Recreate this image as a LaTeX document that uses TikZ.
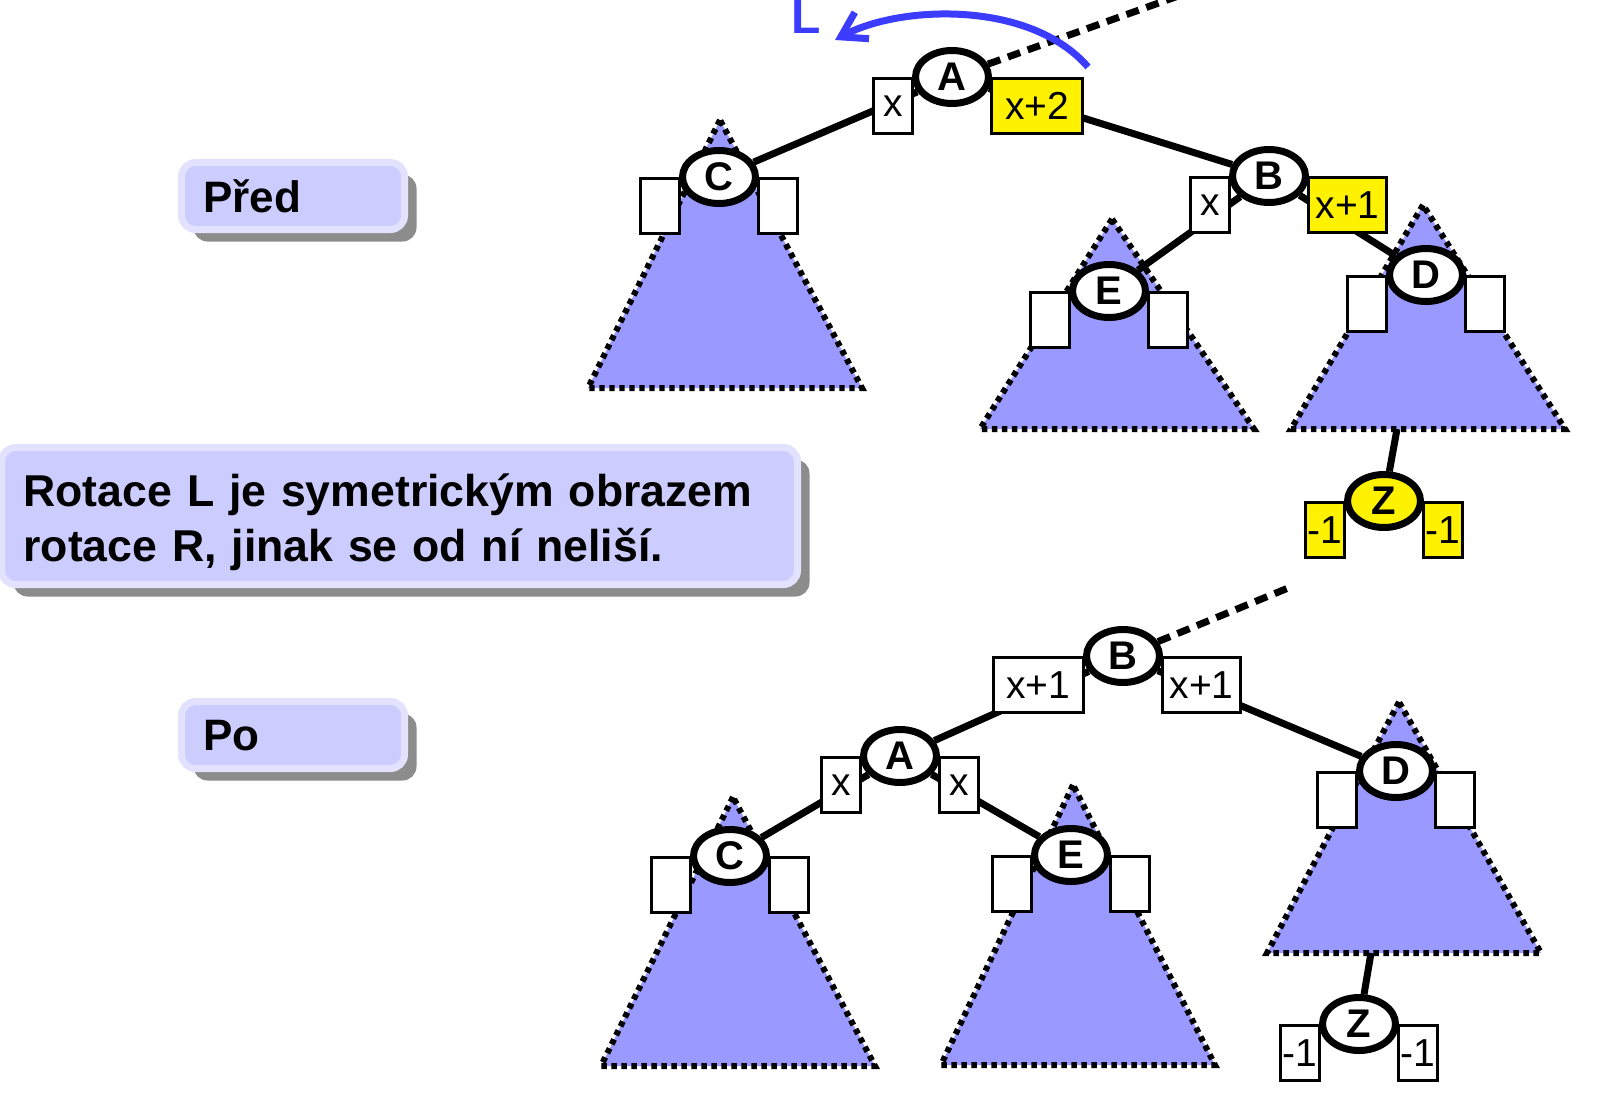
\documentclass[tikz,border=0pt]{standalone}
\usepackage{fontspec}
\setmainfont{Liberation Sans}
\usetikzlibrary{shapes.geometric, arrows.meta, positioning, shadows}
\definecolor{treeblue}{RGB}{153, 153, 255}
\definecolor{tagfill}{RGB}{204, 204, 255}
\definecolor{tagrim}{RGB}{226, 226, 255}
\definecolor{rotblue}{RGB}{60, 60, 255}
\pgfdeclarelayer{trees}
\pgfdeclarelayer{links}
\pgfdeclarelayer{boxes}
\pgfsetlayers{trees,links,boxes,main}
\tikzset{
    knot/.style={ellipse, draw, line width=3.5pt, fill=white, minimum width=36.5pt, minimum height=26.5pt, inner sep=0pt, font=\fontsize{20}{20}\selectfont\bfseries},
    bal/.style={rectangle, draw, line width=1.6pt, fill=white, minimum width=19.4pt, minimum height=27.4pt, inner sep=0.5pt, font=\fontsize{19.5}{19.5}\selectfont},
    hot/.style={fill=yellow},
    link/.style={draw, line width=3.5pt},
    uplink/.style={draw, line width=3.5pt, dash pattern=on 6.5pt off 4pt},
    subtree/.style={fill=treeblue, draw=black, line width=3pt, dash pattern=on 2.7pt off 2.3pt},
    tagbox/.style={rectangle, rounded corners=7pt, fill=tagfill, draw=tagrim, line width=3.5pt, drop shadow={shadow xshift=6pt, shadow yshift=-6pt, fill=black!45, opacity=1}, inner xsep=11pt, align=left, font=\fontsize{22}{27.5}\selectfont\bfseries},
    rot/.style={draw=rotblue, line width=3.5pt, -{Straight Barb[length=12pt, width=15pt]}}
}

\begin{document}
\begin{tikzpicture}[x=0.5pt, y=-0.5pt]
    \useasboundingbox (0,0) rectangle (1611,1098);

    % side notes
    \node[tagbox, minimum width=111.5pt, minimum height=33.5pt, text width=89.5pt, text depth=0pt] (pred) at (293,196) {Před};
    \node[tagbox, minimum width=111.5pt, minimum height=33.5pt, text width=89.5pt, text depth=0pt] (po) at (293,735) {Po};
    \node[tagbox, minimum width=396pt, minimum height=68.5pt, text width=376pt, text depth=26pt, font=\fontsize{22.3}{27.5}\selectfont\bfseries] (note) at (399.5,516) {Rotace L je symetrickým obrazem\\rotace R, jinak se od ní neliší.};

    % tree before the rotation
    \node[knot] (tA) at (952,77) {A};
    \node[knot] (tB) at (1269,176) {B};
    \node[knot] (tC) at (719,177) {C};
    \node[knot] (tE) at (1109,291) {E};
    \node[knot] (tD) at (1426,275) {D};
    \node[knot, hot] (tZ) at (1384,501) {Z};
    \coordinate (tAup) at (1195,-10);
    \coordinate (tDfoot) at (1397,429);

    % rotation mark
    \node[text=rotblue, font=\fontsize{24}{24}\selectfont\bfseries, anchor=base west, inner sep=0pt] (rotL) at (791,33) {L};
    \coordinate (rotfrom) at (1088,67);
    \coordinate (rotto) at (835,40);
    \draw[rot] (rotfrom) .. controls (1030,0) and (900,5) .. (rotto);

    % tree after the rotation
    \node[knot] (bB) at (1123,656) {B};
    \node[knot] (bA) at (900,756) {A};
    \node[knot] (bC) at (730,856) {C};
    \node[knot] (bE) at (1071,855) {E};
    \node[knot] (bD) at (1396,771) {D};
    \node[knot] (bZ) at (1359,1024) {Z};
    \coordinate (bBup) at (1293,586);
    \coordinate (bDfoot) at (1371,953);

    \begin{pgfonlayer}{trees}
        \foreach \ax/\ay/\by in {720/120/388, 1112/219/429, 1423/205/429, 733/797/1066, 1073/785/1065, 1399/702/953}
            \draw[subtree] (\ax,\ay) -- (\ax-132,\by) -- (\ax+142,\by) -- cycle;
    \end{pgfonlayer}

    \begin{pgfonlayer}{links}
        \draw[link] (tA) -- (tC);
        \draw[link] (tA) -- (tB);
        \draw[link] (tB) -- (tE);
        \draw[link] (tB) -- (tD);
        \draw[link] (tDfoot) -- (tZ);
        \draw[uplink] (tA) -- (tAup);
        \draw[link] (bB) -- (bA);
        \draw[link] (bB) -- (bD);
        \draw[link] (bA) -- (bC);
        \draw[link] (bA) -- (bE);
        \draw[link] (bDfoot) -- (bZ);
        \draw[uplink] (bB) -- (bBup);
    \end{pgfonlayer}

    \begin{pgfonlayer}{boxes}
        % balance factors
        \node[bal, below left=0pt and -1pt of tA.west] (tAl) {x};
        \node[bal, hot, minimum width=45.4pt, below right=0pt and -1pt of tA.east] (tAr) {x+2};
        \node[bal, below left=0pt and -1pt of tB.west] (tBl) {x};
        \node[bal, hot, minimum width=39pt, below right=0pt and -1pt of tB.east] (tBr) {x+1};
        \node[bal, hot, below left=0pt and -1pt of tZ.west] (tZl) {-1};
        \node[bal, hot, below right=0pt and -1pt of tZ.east] (tZr) {-1};
        \node[bal, minimum width=45pt, below left=0pt and -1pt of bB.west] (bBl) {x+1};
        \node[bal, minimum width=39pt, below right=0pt and -1pt of bB.east] (bBr) {x+1};
        \node[bal, below left=0pt and -1pt of bA.west] (bAl) {x};
        \node[bal, below right=0pt and -1pt of bA.east] (bAr) {x};
        \node[bal, below left=0pt and -1pt of bZ.west] (bZl) {-1};
        \node[bal, below right=0pt and -1pt of bZ.east] (bZr) {-1};
        \foreach \n in {tC,tE,tD,bC,bE,bD} {
            \node[bal, below left=0pt and -1pt of \n.west] (\n l) {};
            \node[bal, below right=0pt and -1pt of \n.east] (\n r) {};
        }
    \end{pgfonlayer}
\end{tikzpicture}
\end{document}
